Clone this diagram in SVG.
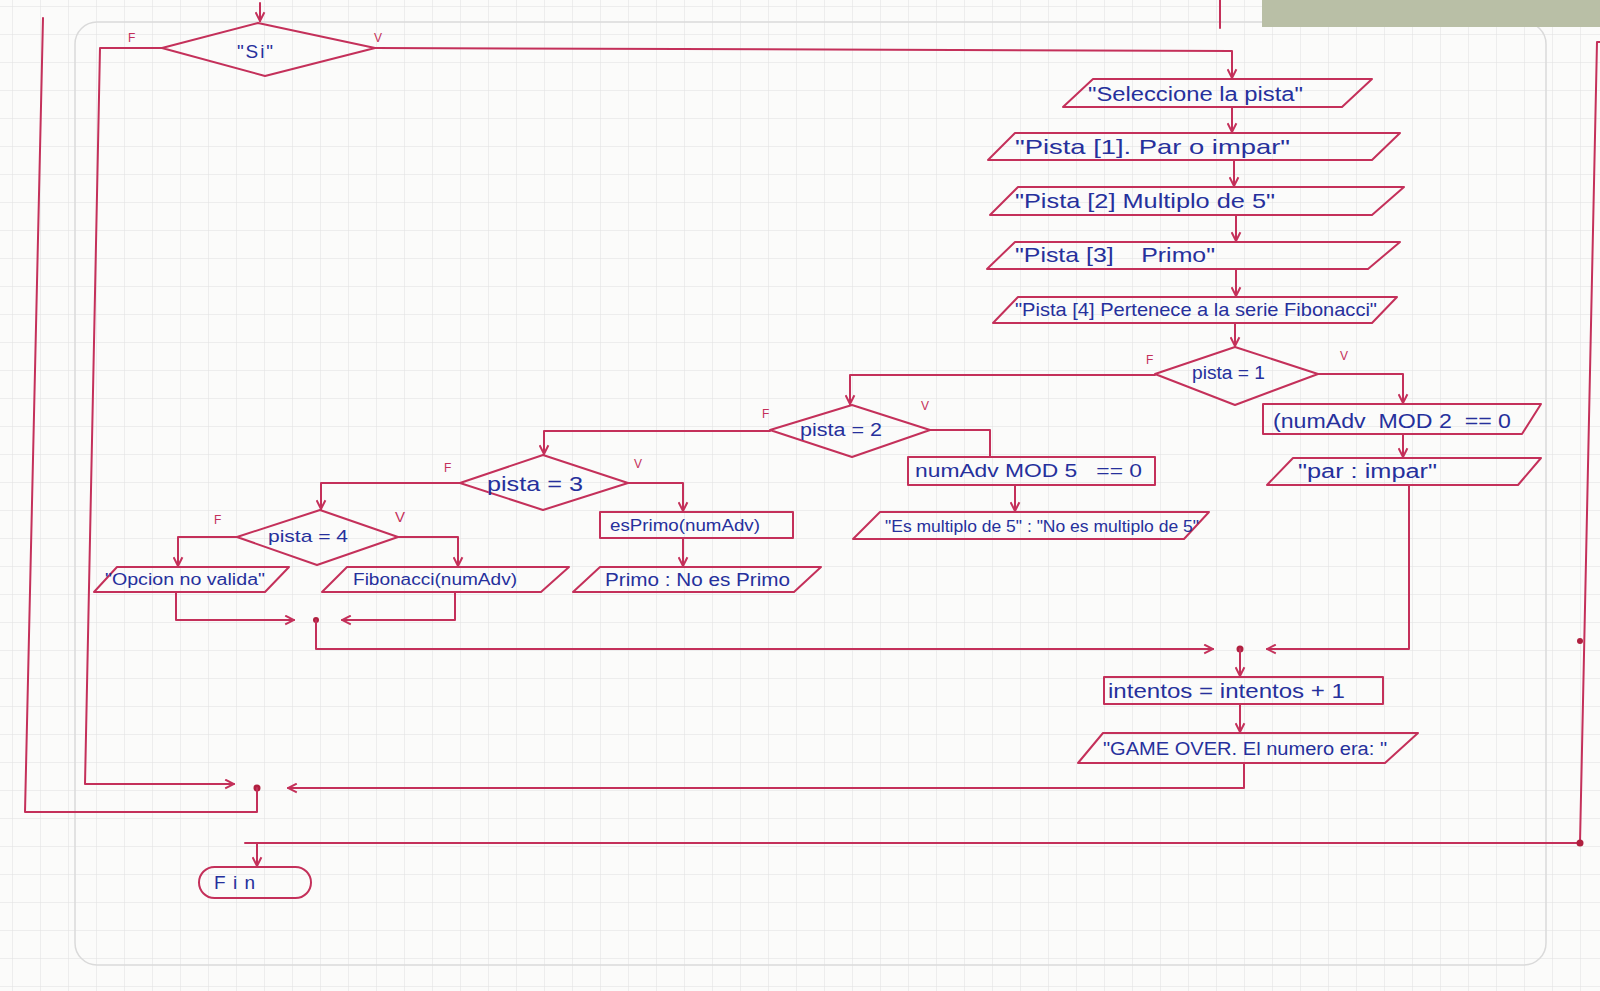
<svg xmlns="http://www.w3.org/2000/svg" width="1600" height="991" viewBox="0 0 1600 991">
<defs>
<pattern id="grid" x="12" y="6" width="28" height="28" patternUnits="userSpaceOnUse">
<path d="M0,0 H28 M0,0 V28" stroke="#e0e0e0" stroke-width="1" fill="none"/>
</pattern>
<marker id="ah" viewBox="0 0 10 10" refX="9" refY="5" markerWidth="11" markerHeight="11" orient="auto" markerUnits="userSpaceOnUse">
<path d="M1,1 L9,5 L1,9" fill="none" stroke="#c4305a" stroke-width="1.8"/>
</marker>
<style>
.ln{stroke:#c4305a;stroke-width:2;fill:none;stroke-linecap:round;stroke-linejoin:round}
.sh{stroke:#c4305a;stroke-width:2;fill:none;stroke-linejoin:round}
.t{font-family:"Liberation Sans",Arial,sans-serif;fill:#26309c;font-size:19px}
.lb{font-family:"Liberation Sans",Arial,sans-serif;fill:#c4305a;font-size:12px}
.dot{fill:#b0203f}
</style>
</defs>
<rect width="1600" height="991" fill="#fbfbfa"/>
<rect width="1600" height="991" fill="url(#grid)"/>
<rect x="75" y="22" width="1471" height="943" rx="22" fill="none" stroke="#dadada" stroke-width="1.5"/>
<rect x="1262" y="0" width="338" height="27" fill="#b9bfa6"/>

<g id="connectors">
<path class="ln" d="M1220,0 V28"/>
<path class="ln" d="M260,3 V21" marker-end="url(#ah)"/>
<path class="ln" d="M375,48 L1232,51 V78" marker-end="url(#ah)"/>
<path class="ln" d="M162,48 H100 L85,784 H234" marker-end="url(#ah)"/>
<path class="ln" d="M1232,107 V132" marker-end="url(#ah)"/>
<path class="ln" d="M1234,160 V186" marker-end="url(#ah)"/>
<path class="ln" d="M1236,215 V241" marker-end="url(#ah)"/>
<path class="ln" d="M1236,269 V296" marker-end="url(#ah)"/>
<path class="ln" d="M1235,323 V346" marker-end="url(#ah)"/>
<path class="ln" d="M1318,374 H1403 V403" marker-end="url(#ah)"/>
<path class="ln" d="M1403,434 V457" marker-end="url(#ah)"/>
<path class="ln" d="M1409,485 V649 H1267" marker-end="url(#ah)"/>
<path class="ln" d="M1155,375 H850 V404" marker-end="url(#ah)"/>
<path class="ln" d="M930,430 H990 V457"/>
<path class="ln" d="M1015,485 V511" marker-end="url(#ah)"/>
<path class="ln" d="M770,431 H544 V454" marker-end="url(#ah)"/>
<path class="ln" d="M628,483 H683 V511" marker-end="url(#ah)"/>
<path class="ln" d="M683,538 V566" marker-end="url(#ah)"/>
<path class="ln" d="M460,483 H321 V509" marker-end="url(#ah)"/>
<path class="ln" d="M398,537 H458 V566" marker-end="url(#ah)"/>
<path class="ln" d="M237,537 H178 V566" marker-end="url(#ah)"/>
<path class="ln" d="M176,592 V620 H294" marker-end="url(#ah)"/>
<path class="ln" d="M455,592 V620 H342" marker-end="url(#ah)"/>
<circle class="dot" cx="316" cy="620" r="3"/>
<path class="ln" d="M316,620 V649 H1213" marker-end="url(#ah)"/>
<circle class="dot" cx="1240" cy="649" r="3.5"/>
<path class="ln" d="M1240,649 V676" marker-end="url(#ah)"/>
<path class="ln" d="M1240,704 V732" marker-end="url(#ah)"/>
<path class="ln" d="M1244,763 V788 H288" marker-end="url(#ah)"/>
<circle class="dot" cx="257" cy="788" r="3.5"/>
<path class="ln" d="M257,788 V812 H25 L43,18"/>
<path class="ln" d="M1600,42 H1597 L1580,843 H245"/>
<circle class="dot" cx="1580" cy="843" r="3.5"/>
<circle class="dot" cx="1580" cy="641" r="3"/>
<path class="ln" d="M257,843 V866" marker-end="url(#ah)"/>
</g>

<g id="labels">
<text class="lb" x="128" y="42">F</text>
<text class="lb" x="374" y="42">V</text>
<text class="lb" x="1146" y="364">F</text>
<text class="lb" x="1340" y="360">V</text>
<text class="lb" x="762" y="418">F</text>
<text class="lb" x="921" y="410">V</text>
<text class="lb" x="444" y="472">F</text>
<text class="lb" x="634" y="468">V</text>
<text class="lb" x="214" y="524">F</text>
<text class="lb" x="395" y="522" style="font-size:15px">V</text>
</g>

<g id="n_si">
<polygon class="sh" points="162,48 258,23 375,48 265,76"/>
<text class="t" x="237" y="58" textLength="36" lengthAdjust="spacing">"Si"</text>
</g>
<g id="n_sel">
<polygon class="sh" points="1063,107 1093,79 1372,79 1342,107"/>
<text class="t" x="1088" y="101" textLength="215" lengthAdjust="spacingAndGlyphs" style="font-size:20px">"Seleccione la pista"</text>
</g>
<g id="n_p1">
<polygon class="sh" points="988,160 1015,133 1400,133 1372,160"/>
<text class="t" x="1015" y="154" textLength="275" lengthAdjust="spacingAndGlyphs" style="font-size:21px">"Pista [1]. Par o impar"</text>
</g>
<g id="n_p2">
<polygon class="sh" points="990,215 1018,187 1404,187 1372,215"/>
<text class="t" x="1015" y="208" textLength="260" lengthAdjust="spacingAndGlyphs" style="font-size:21px">"Pista [2] Multiplo de 5"</text>
</g>
<g id="n_p3">
<polygon class="sh" points="987,269 1015,242 1400,242 1368,269"/>
<text class="t" x="1015" y="262" textLength="200" lengthAdjust="spacingAndGlyphs" style="font-size:21px">"Pista [3]&#160;&#160;&#160; Primo"</text>
</g>
<g id="n_p4">
<polygon class="sh" points="993,323 1018,297 1397,297 1372,323"/>
<text class="t" x="1015" y="316" textLength="362" lengthAdjust="spacingAndGlyphs" style="font-size:19px">"Pista [4] Pertenece a la serie Fibonacci"</text>
</g>
<g id="n_d1">
<polygon class="sh" points="1155,374 1235,347 1318,374 1235,405"/>
<text class="t" x="1192" y="379" textLength="73" lengthAdjust="spacingAndGlyphs" style="font-size:18px">pista = 1</text>
</g>
<g id="n_mod2">
<path class="sh" d="M1263,404 H1541 L1522,434 H1263 Z"/>
<text class="t" x="1273" y="428" textLength="238" lengthAdjust="spacingAndGlyphs" style="font-size:20px">(numAdv&#160; MOD 2&#160; == 0</text>
</g>
<g id="n_par">
<polygon class="sh" points="1267,485 1293,458 1541,458 1518,485"/>
<text class="t" x="1298" y="478" textLength="139" lengthAdjust="spacingAndGlyphs" style="font-size:20px">"par : impar"</text>
</g>
<g id="n_d2">
<polygon class="sh" points="770,430 852,405 930,430 852,457"/>
<text class="t" x="800" y="436" textLength="82" lengthAdjust="spacingAndGlyphs" style="font-size:18px">pista = 2</text>
</g>
<g id="n_mod5">
<rect class="sh" x="908" y="457" width="247" height="28"/>
<text class="t" x="915" y="477" textLength="227" lengthAdjust="spacingAndGlyphs" style="font-size:19px">numAdv MOD 5&#160;&#160; == 0</text>
</g>
<g id="n_es">
<polygon class="sh" points="853,539 880,512 1209,512 1184,539"/>
<text class="t" x="885" y="532" textLength="314" lengthAdjust="spacingAndGlyphs" style="font-size:17px">"Es multiplo de 5" : "No es multiplo de 5"</text>
</g>
<g id="n_d3">
<polygon class="sh" points="460,483 543,455 628,483 543,510"/>
<text class="t" x="487" y="491" textLength="96" lengthAdjust="spacingAndGlyphs" style="font-size:21px">pista = 3</text>
</g>
<g id="n_prim">
<rect class="sh" x="600" y="512" width="193" height="26"/>
<text class="t" x="610" y="531" textLength="150" lengthAdjust="spacingAndGlyphs" style="font-size:17px">esPrimo(numAdv)</text>
</g>
<g id="n_primo">
<polygon class="sh" points="573,592 600,567 821,567 794,592"/>
<text class="t" x="605" y="586" textLength="185" lengthAdjust="spacingAndGlyphs" style="font-size:18px">Primo : No es Primo</text>
</g>
<g id="n_d4">
<polygon class="sh" points="237,537 320,510 398,537 317,565"/>
<text class="t" x="268" y="542" textLength="80" lengthAdjust="spacingAndGlyphs" style="font-size:17px">pista = 4</text>
</g>
<g id="n_fib">
<polygon class="sh" points="322,592 347,567 569,567 541,592"/>
<text class="t" x="353" y="585" textLength="164" lengthAdjust="spacingAndGlyphs" style="font-size:16px">Fibonacci(numAdv)</text>
</g>
<g id="n_op">
<polygon class="sh" points="94,592 117,567 289,567 265,592"/>
<text class="t" x="105" y="585" textLength="160" lengthAdjust="spacingAndGlyphs" style="font-size:16px">"Opcion no valida"</text>
</g>
<g id="n_int">
<rect class="sh" x="1104" y="677" width="279" height="27"/>
<text class="t" x="1108" y="698" textLength="237" lengthAdjust="spacingAndGlyphs" style="font-size:20px">intentos = intentos + 1</text>
</g>
<g id="n_go">
<polygon class="sh" points="1078,763 1103,733 1418,733 1385,763"/>
<text class="t" x="1103" y="755" textLength="284" lengthAdjust="spacingAndGlyphs" style="font-size:18px">"GAME OVER. El numero era: "</text>
</g>
<g id="n_fin">
<rect class="sh" x="199" y="867" width="112" height="31" rx="15.5"/>
<text class="t" x="214" y="889" textLength="41" lengthAdjust="spacing" style="font-size:19px">Fin</text>
</g>
</svg>
